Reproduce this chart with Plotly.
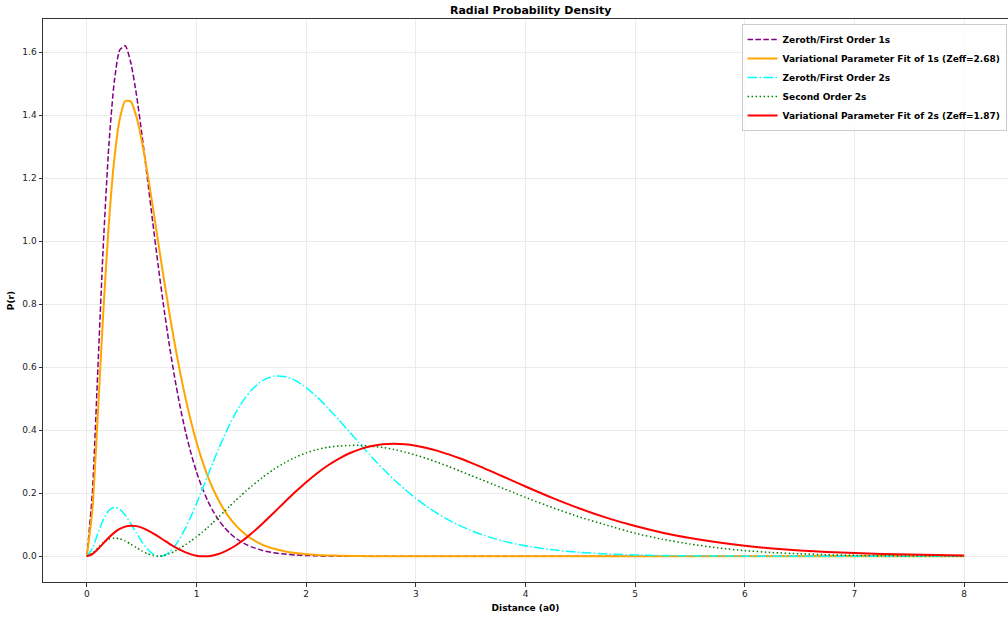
import plotly.graph_objects as go

# Distance grid (a0)
r = [0.0, 0.05, 0.1, 0.15, 0.2, 0.25, 0.3, 0.35, 0.4, 0.45, 0.5, 0.55, 0.6, 0.65, 0.7, 0.75,
     0.8, 0.85, 0.9, 0.95, 1.0, 1.05, 1.1, 1.15, 1.2, 1.25, 1.3, 1.35, 1.4, 1.45, 1.5,
     1.6, 1.7, 1.8, 1.9, 2.0, 2.1, 2.2, 2.3, 2.4, 2.5, 2.6, 2.7, 2.8, 2.9, 3.0, 3.1, 3.2,
     3.3, 3.4, 3.5, 3.6, 3.7, 3.8, 3.9, 4.0,
     4.25, 4.5, 4.75, 5.0, 5.25, 5.5, 5.75, 6.0, 6.25, 6.5, 6.75, 7.0, 7.25, 7.5, 7.75, 8.0]

zeroth_1s = [0, 0.2000, 0.5927, 0.9880, 1.3012, 1.5061, 1.6067, 1.6201, 1.5676, 1.4699, 1.3443,
             1.2049, 1.0623, 0.9236, 0.7936, 0.6749, 0.5688, 0.4757, 0.3951, 0.3261, 0.2677,
             0.2186, 0.1778, 0.1439, 0.1161, 0.0933, 0.0748, 0.0597, 0.0476, 0.0378, 0.0300,
             0.0187, 0.0116, 0.0071, 0.0044, 0.0027, 0.0016, 0.0010, 0.0006, 0.0004, 0.0002,
             0.0001, 0.0001, 0, 0, 0, 0, 0, 0, 0, 0, 0, 0, 0, 0, 0,
             0, 0, 0, 0, 0, 0, 0, 0, 0, 0, 0, 0, 0, 0, 0, 0]

var_1s = [0, 0.1472, 0.4505, 0.7754, 1.0542, 1.2598, 1.3879, 1.4449, 1.4435, 1.3973, 1.3196,
          1.2215, 1.1120, 0.9983, 0.8854, 0.7776, 0.6768, 0.5844, 0.5012, 0.4272, 0.3620,
          0.3053, 0.2563, 0.2143, 0.1785, 0.1481, 0.1226, 0.1011, 0.0832, 0.0683, 0.0559,
          0.0372, 0.0246, 0.0161, 0.0105, 0.0068, 0.0044, 0.0028, 0.0018, 0.0012, 0.0007,
          0.0005, 0.0003, 0.0002, 0.0001, 0.0001, 0, 0, 0, 0, 0, 0, 0, 0, 0, 0,
          0, 0, 0, 0, 0, 0, 0, 0, 0, 0, 0, 0, 0, 0, 0, 0]

zeroth_2s = [0, 0.0249, 0.0723, 0.1163, 0.1452, 0.1557, 0.1494, 0.1306, 0.1041, 0.0749, 0.0471,
             0.0240, 0.0080, 0.0005, 0.0020, 0.0125, 0.0314, 0.0576, 0.0900, 0.1273, 0.1680,
             0.2109, 0.2546, 0.2979, 0.3400, 0.3798, 0.4168, 0.4504, 0.4801, 0.5058, 0.5273,
             0.5575, 0.5715, 0.5709, 0.5581, 0.5354, 0.5054, 0.4702, 0.4320, 0.3925, 0.3529,
             0.3145, 0.2779, 0.2437, 0.2123, 0.1837, 0.1580, 0.1352, 0.1151, 0.0975, 0.0823,
             0.0691, 0.0578, 0.0482, 0.0401, 0.0332,
             0.0205, 0.0124, 0.0074, 0.0044, 0.0025, 0.0015, 0.0008, 0.0005, 0.0003, 0.0002,
             0.0001, 0.0001, 0, 0, 0, 0]

second_2s = [0, 0.0093, 0.0269, 0.0433, 0.0541, 0.0580, 0.0557, 0.0486, 0.0388, 0.0279, 0.0175,
             0.0089, 0.0030, 0.0002, 0.0025, 0.0080, 0.0160, 0.0260, 0.0370, 0.0490, 0.0620,
             0.0760, 0.0910, 0.1070, 0.1240, 0.1410, 0.1580, 0.1750, 0.1910, 0.2070, 0.2220,
             0.250, 0.275, 0.296, 0.314, 0.328, 0.339, 0.346, 0.350, 0.352, 0.352,
             0.349, 0.345, 0.339, 0.331, 0.321, 0.310, 0.298, 0.285, 0.271, 0.257,
             0.243, 0.229, 0.215, 0.201, 0.187,
             0.154, 0.124, 0.098, 0.073, 0.054, 0.039, 0.027, 0.018, 0.012, 0.008,
             0.005, 0.003, 0.002, 0.001, 0.001, 0.000]

var_2s = [0, 0.0068, 0.0223, 0.0411, 0.0595, 0.0752, 0.0869, 0.0942, 0.0970, 0.0958, 0.0910,
          0.0834, 0.0739, 0.0630, 0.0517, 0.0404, 0.0298, 0.0203, 0.0124, 0.0062, 0.0021,
          0.0002, 0.0004, 0.0029, 0.0074, 0.0141, 0.0226, 0.0328, 0.0446, 0.0578, 0.0721,
          0.1034, 0.1367, 0.1707, 0.2038, 0.2351, 0.2637, 0.2890, 0.3103, 0.3277, 0.3409,
          0.3501, 0.3554, 0.3571, 0.3555, 0.3510, 0.3438, 0.3347, 0.3235, 0.3110, 0.2972,
          0.2828, 0.2677, 0.2524, 0.2370, 0.2216,
          0.1846, 0.1508, 0.1212, 0.0960, 0.0750, 0.0579, 0.0443, 0.0335, 0.0251, 0.0187,
          0.0138, 0.0102, 0.0074, 0.0054, 0.0039, 0.0028]

names = ["Zeroth/First Order 1s",
         "Variational Parameter Fit of 1s (Zeff=2.68)",
         "Zeroth/First Order 2s",
         "Second Order 2s",
         "Variational Parameter Fit of 2s (Zeff=1.87)"]
series = [zeroth_1s, var_1s, zeroth_2s, second_2s, var_2s]
colors = ["#800080", "#FFA500", "#00FFFF", "#008000", "#FF0000"]
widths = [1.5, 2, 1.5, 1.5, 2]
dashes = ["5.5px,2.4px", "solid", "9.6px,2.4px,1.5px,2.4px", "1.5px,2.5px", "solid"]

FONT = "DejaVu Sans"
fig = go.Figure()
for n, y, c, w, d in zip(names, series, colors, widths, dashes):
    fig.add_trace(go.Scatter(x=r, y=y, mode="lines", name="<b>" + n + "</b>",
                             line=dict(color=c, width=w, dash=d, shape="spline", smoothing=0.6)))

axis_common = dict(showline=True, linecolor="#333333", linewidth=1, mirror=True,
                   ticks="outside", ticklen=3.5, tickwidth=0.8, tickcolor="#333333",
                   showgrid=True, gridcolor="#ebebeb", gridwidth=1, zeroline=False,
                   automargin=False,
                   tickfont=dict(family=FONT, size=9, color="#222222"))

fig.update_layout(
    width=1008, height=617,
    margin=dict(l=43, r=0, t=19, b=35),
    paper_bgcolor="white", plot_bgcolor="white",
    title=dict(text="<b>Radial Probability Density</b>", x=0.5265, xanchor="center",
               y=1 - 10 / 617, yanchor="middle",
               font=dict(family=FONT, size=11, color="black")),
    xaxis=dict(range=[-0.4, 8.4], tickmode="array", tickvals=[0, 1, 2, 3, 4, 5, 6, 7, 8],
               ticktext=["0", "1", "2", "3", "4", "5", "6", "7", "8"],
               title=dict(text="<b>Distance (a0)</b>", standoff=6,
                          font=dict(family=FONT, size=9, color="black")),
               **axis_common),
    yaxis=dict(range=[-0.0815, 1.705], tickmode="array",
               tickvals=[0, 0.2, 0.4, 0.6, 0.8, 1.0, 1.2, 1.4, 1.6],
               ticktext=["0.0", "0.2", "0.4", "0.6", "0.8", "1.0", "1.2", "1.4", "1.6"],
               title=dict(text="<b>P(r)</b>", standoff=6,
                          font=dict(family=FONT, size=9, color="black")),
               **axis_common),
    legend=dict(x=0.9985, y=0.991, xanchor="right", yanchor="top",
                bgcolor="rgba(255,255,255,0.85)", bordercolor="#cccccc", borderwidth=1,
                font=dict(family=FONT, size=9, color="black"), tracegroupgap=0,
                itemwidth=30),
    showlegend=True,
)

fig.write_html("out.html", config={"displayModeBar": False},
               post_script="document.body.style.margin='0';document.body.style.overflow='hidden';")
